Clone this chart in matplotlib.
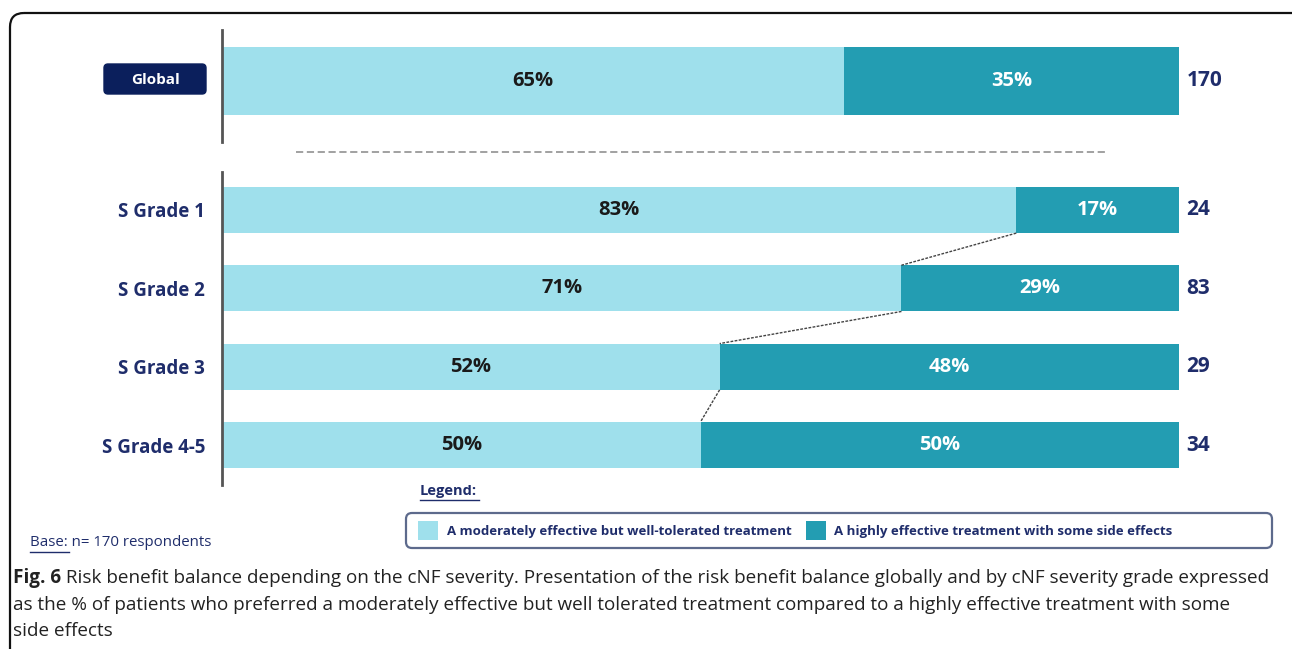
import matplotlib
matplotlib.use('Agg')
import matplotlib.pyplot as plt
from matplotlib.patches import FancyBboxPatch, Rectangle
from matplotlib.lines import Line2D

# data
global_label = 'Global'
global_tolerated = 65
global_effective = 35
global_n = 170

grades = ['S Grade 1', 'S Grade 2', 'S Grade 3', 'S Grade 4-5']
tolerated = [83, 71, 52, 50]
effective = [17, 29, 48, 50]
n_resp = [24, 83, 29, 34]

legend_labels = ['A moderately effective but well-tolerated treatment',
                 'A highly effective treatment with some side effects']

LIGHT = '#9fe0ec'
DARK = '#239db2'
NAVY = '#1f2d6b'
TXT = '#1a1a1a'
FONT = ['Open Sans', 'DejaVu Sans']

W, H = 1292, 649
fig = plt.figure(figsize=(W / 100, H / 100), dpi=100)


def fx(px):
    return px / W


def fy(py):
    return 1 - py / H


def px_axes(x0, y0, x1, y1):
    return fig.add_axes([fx(x0), fy(y1), fx(x1 - x0), (y1 - y0) / H])


# outer rounded border (runs off the right/bottom)
bg = fig.add_axes([0, 0, 1, 1])
bg.set_xlim(0, W)
bg.set_ylim(H, 0)
bg.axis('off')
bg.add_patch(FancyBboxPatch((10, 13), 1300, 700, boxstyle='round,pad=0,rounding_size=14',
                            fc='none', ec='#111111', lw=1.6))


def style_axes(ax):
    ax.set_xlim(0, 100)
    for s in ['top', 'right', 'bottom']:
        ax.spines[s].set_visible(False)
    ax.spines['left'].set_color('#555555')
    ax.spines['left'].set_linewidth(2)
    ax.set_xticks([])
    ax.tick_params(axis='y', length=0)


def pct_label(ax, x, y, v, color):
    ax.text(x, y, f'{v}%', ha='center', va='center', fontsize=14.5, weight='bold',
            color=color, family=FONT)


# global bar
ax1 = px_axes(222, 30, 1179, 142)
style_axes(ax1)
ax1.set_ylim(-0.82, 0.68)
ax1.set_yticks([])
ax1.barh([0], [global_tolerated], height=0.91, color=LIGHT)
ax1.barh([0], [global_effective], left=[global_tolerated], height=0.91, color=DARK)
pct_label(ax1, global_tolerated / 2, 0, global_tolerated, TXT)
pct_label(ax1, global_tolerated + global_effective / 2, 0, global_effective, 'white')
ax1.text(100.8, 0, str(global_n), ha='left', va='center', fontsize=15, weight='bold',
         color=NAVY, family=FONT, clip_on=False)

bg.add_patch(FancyBboxPatch((104, 64), 102, 30, boxstyle='round,pad=0,rounding_size=4',
                            fc='#0b1f5c', ec='#0b1f5c'))
bg.text(155, 80, global_label, ha='center', va='center', color='white', fontsize=11,
        weight='bold', family=FONT)

# separator
bg.add_line(Line2D([296, 1105], [152, 152], color='#9a9a9a', lw=1.3, ls=(0, (4, 2))))

# grade bars
ax2 = px_axes(222, 172, 1179, 485)
style_axes(ax2)
ypos = list(range(len(grades)))
bh = 0.59
ax2.barh(ypos, tolerated, height=bh, color=LIGHT)
ax2.barh(ypos, effective, left=tolerated, height=bh, color=DARK)
ax2.set_ylim(len(grades) - 0.49, -0.485)
ax2.set_yticks(ypos)
ax2.set_yticklabels(grades, fontsize=13.5, weight='bold', color=NAVY, family=FONT)
ax2.tick_params(axis='y', pad=12)
for i in ypos:
    pct_label(ax2, tolerated[i] / 2, i, tolerated[i], TXT)
    pct_label(ax2, tolerated[i] + effective[i] / 2, i, effective[i], 'white')
    ax2.text(100.8, i, str(n_resp[i]), ha='left', va='center', fontsize=15, weight='bold',
             color=NAVY, family=FONT, clip_on=False)
for i in ypos[:-1]:
    ax2.plot([tolerated[i], tolerated[i + 1]], [i + bh / 2, i + 1 - bh / 2],
             color='#444444', lw=1, ls=(0, (2, 1)))

# legend
bg.text(420, 491, 'Legend:', ha='left', va='center', fontsize=10.5, weight='bold',
        color=NAVY, family=FONT)
bg.add_line(Line2D([420, 479], [500, 500], color=NAVY, lw=1))
bg.add_patch(FancyBboxPatch((406, 513), 866, 35, boxstyle='round,pad=0,rounding_size=6',
                            fc='white', ec='#5d6a8c', lw=1.6))
bg.add_patch(Rectangle((418, 521), 20, 19, fc=LIGHT, ec='none'))
bg.text(447, 531, legend_labels[0], ha='left', va='center', fontsize=9.5, weight='bold',
        color=NAVY, family=FONT)
bg.add_patch(Rectangle((806, 521), 20, 19, fc=DARK, ec='none'))
bg.text(834, 531, legend_labels[1], ha='left', va='center', fontsize=9.5, weight='bold',
        color=NAVY, family=FONT)

# base note
bg.text(30, 543, 'Base: n= 170 respondents', ha='left', va='center', fontsize=10.8,
        color=NAVY, family=FONT)
bg.add_line(Line2D([30, 69], [552, 552], color=NAVY, lw=1))

# caption
cap_lines = [
    ' Risk benefit balance depending on the cNF severity. Presentation of the risk benefit balance globally and by cNF severity grade expressed',
    'as the % of patients who preferred a moderately effective but well tolerated treatment compared to a highly effective treatment with some',
    'side effects',
]
cap_size = 13.6
t0 = bg.text(13, 578, 'Fig. 6', ha='left', va='center', fontsize=cap_size, weight='bold',
             color='#222222', family=FONT)
r = fig.canvas.get_renderer()
bb = t0.get_window_extent(renderer=r)
bg.text(13 + bb.width, 578, cap_lines[0], ha='left', va='center', fontsize=cap_size,
        color='#222222', family=FONT)
bg.text(13, 605, cap_lines[1], ha='left', va='center', fontsize=cap_size, color='#222222',
        family=FONT)
bg.text(13, 631, cap_lines[2], ha='left', va='center', fontsize=cap_size, color='#222222',
        family=FONT)

fig.savefig('out.png', dpi=100, facecolor='white')
